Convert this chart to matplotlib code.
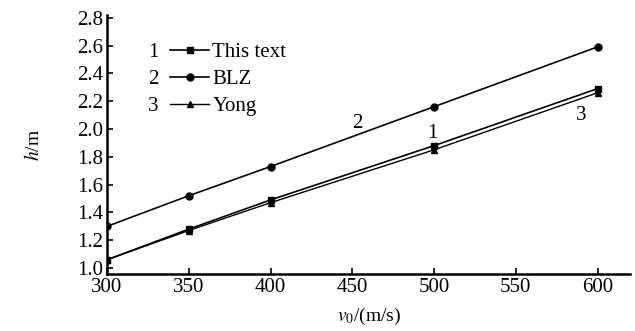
"""
h versus v0 for three models, line chart with numbered legend
"""
import matplotlib.pyplot as plt

plt.rcParams["font.family"] = ["Liberation Serif", "DejaVu Serif"]
plt.rcParams["mathtext.fontset"] = "stix"

v0 = [300, 350, 400, 500, 600]
h_this = [1.06, 1.28, 1.49, 1.88, 2.29]
h_blz = [1.30, 1.52, 1.73, 2.16, 2.59]
h_yong = [1.06, 1.27, 1.47, 1.85, 2.26]

names = ["This text", "BLZ", "Yong"]
numbers = ["1", "2", "3"]
xticks = [300, 350, 400, 450, 500, 550, 600]
yticks = [1.0, 1.2, 1.4, 1.6, 1.8, 2.0, 2.2, 2.4, 2.6, 2.8]

fig = plt.figure(figsize=(6.35, 3.31), dpi=100)
ax = fig.add_axes([0.1685, 0.172, 0.824, 0.783])

l1, = ax.plot(v0, h_this, color="black", lw=1.2, marker="s", ms=5)
l2, = ax.plot(v0, h_blz, color="black", lw=1.2, marker="o", ms=5)
l3, = ax.plot(v0, h_yong, color="black", lw=1.0, marker="^", ms=5)

ax.set_xlim(300, 620)
ax.set_ylim(0.957, 2.82)
ax.set_xticks(xticks)
ax.set_yticks(yticks)
ax.set_yticklabels(["{:.1f}".format(t) for t in yticks])
ax.tick_params(direction="in", length=4, width=1.2, labelsize=15, pad=3)

for s in ["top", "right"]:
    ax.spines[s].set_visible(False)
for s in ["left", "bottom"]:
    ax.spines[s].set_linewidth(1.8)

ax.set_xlabel(r"$v_0$/(m/s)", fontsize=14, labelpad=6)
ax.set_ylabel(r"$h$/m", fontsize=14, labelpad=24)

leg = ax.legend([l1, l2, l3], names, loc="upper left",
                bbox_to_anchor=(0.104, 0.925), frameon=False, fontsize=15,
                handlelength=1.9, handletextpad=0.15, labelspacing=0.35,
                borderaxespad=0)

# numbers in front of the legend rows
fig.canvas.draw()
inv = ax.transAxes.inverted()
left = leg.get_window_extent().x0 - 3
for t, num in zip(leg.get_texts(), numbers):
    bb = t.get_window_extent()
    x0, y0 = inv.transform((left, (bb.y0 + bb.y1) / 2))
    ax.text(x0, y0, num, transform=ax.transAxes, fontsize=15,
            ha="right", va="center")

# curve numbers
ax.text(453, 2.04, "2", fontsize=15, ha="center", va="center")
ax.text(499, 1.97, "1", fontsize=15, ha="center", va="center")
ax.text(590, 2.10, "3", fontsize=15, ha="center", va="center")

plt.savefig("out.png", dpi=100)
